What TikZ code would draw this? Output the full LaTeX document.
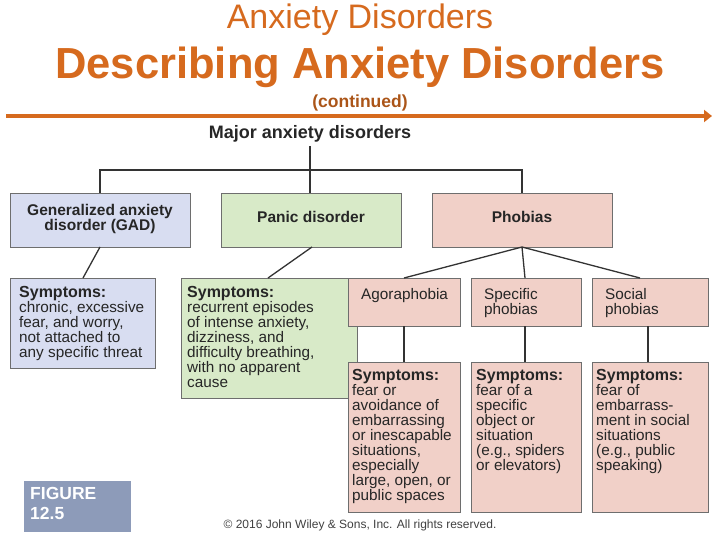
\documentclass[tikz,border=0pt]{standalone}
\usepackage{fontspec}
\setmainfont{Liberation Sans}
\usetikzlibrary{arrows.meta}
\definecolor{org}{RGB}{214,106,30}
\definecolor{lav}{RGB}{216,221,241}
\definecolor{grn}{RGB}{216,234,200}
\definecolor{pnk}{RGB}{241,208,200}
\definecolor{figc}{RGB}{141,155,185}
\definecolor{edge}{RGB}{110,110,110}
\tikzset{
 bx/.style={draw=edge,line width=0.8pt},
 hd/.style={font=\fontsize{15.5}{15}\selectfont\bfseries,align=center,text=black!85},
 sy/.style={font=\fontsize{15.3}{15}\selectfont,align=left,anchor=north west,inner sep=0pt,text=black!85},
 ln/.style={draw=black!80,line width=1.3pt}
}
\newcommand\symh{\textbf{\fontsize{16}{15}\selectfont Symptoms:}}
\begin{document}
\begin{tikzpicture}[x=1pt,y=-1pt]
\useasboundingbox (0,0) rectangle (720,540);
\node (t1) at (360,20) {\fontsize{34}{36}\selectfont\color{org}Anxiety Disorders};
\node (t2) at (360,67) {\fontsize{43.5}{46}\selectfont\bfseries\color{org}Describing Anxiety Disorders};
\node (t3) at (360,103) {\fontsize{17.5}{18}\selectfont\bfseries\color{org!80!black}(continued)};
\coordinate (ls) at (6,116); \coordinate (le) at (712,116);
\draw[org,line width=3.5pt,-{Triangle[length=8pt,width=12pt]}] (ls) -- (le);

\node[font=\fontsize{18}{18}\selectfont\bfseries,text=black!85] (maj) at (310,134) {Major anxiety disorders};
\fill[bx,fill=lav] (10,193) rectangle (190,247); \node[hd] (gad) at (100,219) {Generalized anxiety\\disorder (GAD)};
\fill[bx,fill=grn] (221,193) rectangle (401,247); \node[hd] (pan) at (311,217) {Panic disorder};
\fill[bx,fill=pnk] (432,193) rectangle (612,247); \node[hd] (pho) at (522,217) {Phobias};
\coordinate (j) at (310,170);
\draw[ln] (310,146) -- (310,193);
\draw[ln] (100,193) -- (100,170) -- (522,170) -- (522,193);

\fill[bx,fill=lav] (10,278) rectangle (155,368);
\node[sy] (s1) at (19,286) {\symh\\chronic, excessive\\fear, and worry,\\not attached to\\any specific threat};
\fill[bx,fill=grn] (181,278) rectangle (357,398);
\node[sy] (s2) at (187,286) {\symh\\recurrent episodes\\of intense anxiety,\\dizziness, and\\difficulty breathing,\\with no apparent\\cause};
\fill[bx,fill=pnk] (348,278) rectangle (460,326); \node[sy] (ag) at (361,288) {Agoraphobia};
\fill[bx,fill=pnk] (471,278) rectangle (581,326); \node[sy] (sp) at (484,288) {Specific\\phobias};
\fill[bx,fill=pnk] (592,278) rectangle (708,326); \node[sy] (so) at (605,288) {Social\\phobias};
\fill[bx,fill=pnk] (348,362) rectangle (460,512);
\node[sy] (s3) at (352,369) {\symh\\fear or\\avoidance of\\embarrassing\\or inescapable\\situations,\\especially\\large, open, or\\public spaces};
\fill[bx,fill=pnk] (471,362) rectangle (581,512);
\node[sy] (s4) at (476,369) {\symh\\fear of a\\specific\\object or\\situation\\(e.g., spiders\\or elevators)};
\fill[bx,fill=pnk] (592,362) rectangle (708,512);
\node[sy] (s5) at (596,369) {\symh\\fear of\\embarrass-\\ment in social\\situations\\(e.g., public\\speaking)};

\draw[ln] (100,247) -- (83,278);
\draw[ln] (312,247) -- (268,278);
\draw[ln] (522,247) -- (404,278);
\draw[ln] (522,247) -- (525,278);
\draw[ln] (522,247) -- (640,278);
\draw[ln] (404,326) -- (404,362);
\draw[ln] (525,326) -- (525,362);
\draw[ln] (648,326) -- (648,362);

\fill[figc] (24,481) rectangle (131,532);
\node[sy,text=white,font=\fontsize{17.5}{20}\selectfont\bfseries] (fig) at (30,487) {FIGURE\\12.5};
\node[font=\fontsize{12}{13}\selectfont,text=black!75] (cp) at (360,525) {© 2016 John Wiley \& Sons, Inc. All rights reserved.};
\end{tikzpicture}
\end{document}
